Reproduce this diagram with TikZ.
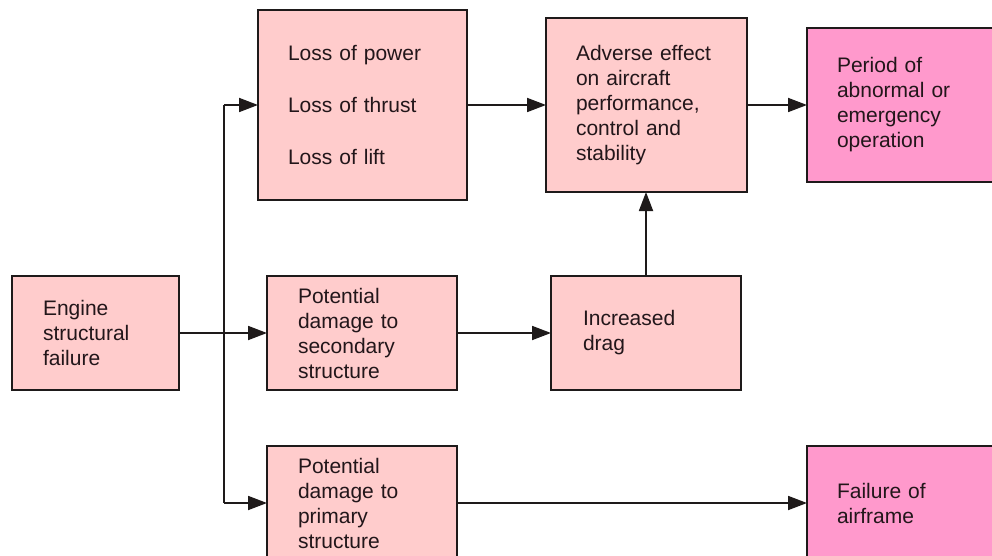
\documentclass[tikz,border=0pt]{standalone}
\usepackage{fontspec}
\setmainfont{Liberation Sans}
\usetikzlibrary{arrows.meta}
\definecolor{lightpink}{RGB}{255,204,204}
\definecolor{hotpink}{RGB}{255,153,204}
\definecolor{edge}{RGB}{30,26,26}
\definecolor{ink}{RGB}{34,22,26}
\tikzset{
  box/.style={draw=edge, fill=lightpink, line width=1.8pt, anchor=north west,
    inner xsep=30pt, inner ysep=0pt, outer sep=0pt, align=left, text=ink,
    font=\fontsize{21}{25}\selectfont},
  outcome/.style={box, fill=hotpink},
  arr/.style={draw=edge, line width=1.8pt, -{Triangle[length=19pt,width=14pt]}},
  plain/.style={draw=edge, line width=1.8pt}
}
\begin{document}
\begin{tikzpicture}[x=1pt,y=-1pt]
\useasboundingbox (0,0) rectangle (992,556);
\clip (0,0) rectangle (992,556);

% boxes
\node[box, text width=105pt, inner xsep=31pt, minimum height=114pt] (eng) at (12,276)
  {Engine\\structural\\failure};
\node[box, text width=149pt, minimum height=190pt] (loss) at (258,10)
  {Loss of power\\[27pt]Loss of thrust\\[27pt]Loss of lift};
\node[box, text width=141pt, minimum height=174pt] (adv) at (546,18)
  {Adverse effect\\on aircraft\\performance,\\control and\\stability};
\node[outcome, text width=128pt, minimum height=154pt] (per) at (807,28)
  {Period of\\abnormal or\\emergency\\operation};
\node[box, text width=128pt, inner xsep=31pt, minimum height=114pt] (sec) at (267,276)
  {Potential\\damage to\\secondary\\structure};
\node[box, text width=126pt, inner xsep=32pt, minimum height=114pt] (drag) at (551,276)
  {Increased\\drag};
\node[box, text width=128pt, inner xsep=31pt, minimum height=114pt] (prim) at (267,446)
  {Potential\\damage to\\primary\\structure};
\node[outcome, text width=128pt, minimum height=114pt] (fail) at (807,446)
  {Failure of\\airframe};

% branching junction on the trunk line
\coordinate (j) at (224,333);

% connectors
\draw[arr] (eng.east) -- (sec.west);
\draw[plain] (j |- loss.west) -- (j |- prim.west);
\draw[arr] (j |- loss.west) -- (loss.west);
\draw[arr] (j |- prim.west) -- (prim.west);
\draw[arr] (loss.east) -- (loss.east -| adv.west);
\draw[arr] (adv.east) -- (adv.east -| per.west);
\draw[arr] (sec.east) -- (drag.west);
\draw[arr] (drag.north) -- (drag.north |- adv.south);
\draw[arr] (prim.east) -- (prim.east -| fail.west);
\end{tikzpicture}
\end{document}
